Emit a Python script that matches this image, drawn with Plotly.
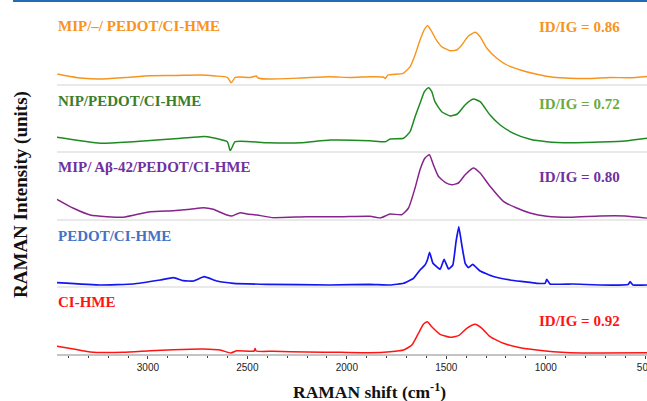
import plotly.graph_objects as go
from plotly.subplots import make_subplots

# ---------------- data (Raman shift in cm^-1, intensity in a.u., panel-relative) ----------------
orange_x = [3455, 3390, 3325, 3239, 3114, 2988, 2863, 2737, 2662, 2601, 2581, 2561, 2486, 2456, 2446,
            2400, 2234, 2084, 1983, 1883, 1817, 1807, 1793, 1717, 1682, 1657, 1632, 1607, 1593, 1573,
            1548, 1523, 1481, 1447, 1422, 1389, 1355, 1330, 1296, 1246, 1196, 1128, 1045, 962, 877,
            777, 677, 576, 491]
orange_y = [9.6, 7.1, 5.3, 4.6, 6.1, 7.9, 8.1, 8.6, 7.6, 6.3, 0.6, 6.3, 6.1, 7.6, 5.6,
            4.6, 5.6, 6.9, 6.1, 6.9, 6.6, 5.1, 8.6, 10.3, 16.9, 28.6, 43.6, 55.3, 57.9, 51.9,
            42.9, 36.9, 32.9, 33.6, 38.6, 47.6, 51.3, 46.9, 35.3, 25.3, 18.6, 13.6, 9.3, 6.3, 5.3,
            5.1, 6.1, 5.8, 7.1]

green_x = [3457, 3239, 3074, 2903, 2737, 2702, 2601, 2586, 2561, 2400, 2234, 2084, 1883, 1807, 1782,
           1715, 1682, 1657, 1632, 1610, 1590, 1573, 1557, 1523, 1481, 1444, 1406, 1364, 1330, 1280,
           1229, 1162, 1079, 995, 877, 728, 601, 491]
green_y = [13.9, 7.9, 9.5, 11.9, 14.5, 14.5, 9.5, 0.5, 9.5, 8.5, 8.5, 11.2, 10.5, 9.5, 12.2,
           12.9, 19.5, 34.5, 47.9, 59.5, 63.5, 59.5, 49.5, 39.5, 35.2, 37.2, 46.2, 52.2, 49.5, 36.2,
           26.2, 17.9, 11.9, 9.5, 8.5, 9.2, 10.2, 12.9]

purple_x = [3457, 3374, 3290, 3206, 3124, 2988, 2873, 2787, 2720, 2672, 2603, 2578, 2536, 2502, 2452,
            2369, 2201, 2033, 1883, 1833, 1782, 1724, 1690, 1657, 1632, 1607, 1585, 1565, 1540, 1506,
            1472, 1439, 1405, 1364, 1330, 1280, 1213, 1146, 1079, 995, 877, 728, 601, 491]
purple_y = [19.5, 10.5, 3.8, 2.1, 1.5, 7.1, 8.1, 9.5, 11.1, 9.5, 3.8, 2.8, 6.1, 4.8, 3.8,
            1.1, 2.1, 2.1, 2.5, 0.8, 4.8, 4.1, 10.8, 30.8, 49.1, 60.8, 64.1, 54.1, 42.5, 36.5,
            34.1, 35.8, 44.1, 50.8, 45.8, 32.5, 17.5, 10.8, 5.8, 2.5, 1.5, 2.8, 2.8, 0.5]

blue_x = [3457, 3239, 3074, 2938, 2871, 2821, 2771, 2717, 2653, 2570, 2402, 2084, 1883, 1782, 1715,
          1665, 1632, 1607, 1595, 1584, 1567, 1531, 1511, 1489, 1467, 1451, 1437, 1422, 1405, 1389,
          1367, 1330, 1271, 1179, 1112, 1045, 1003, 995, 979, 862, 728, 586, 576, 561, 491]
blue_y = [3.7, 1.4, 2.4, 6.4, 8.7, 5.7, 5.4, 9.7, 5.4, 3.1, 2.1, 1.4, 2.1, 1.4, 3.1,
          8.1, 16.4, 21.4, 26.4, 34.1, 23.1, 17.1, 27.1, 17.4, 21.4, 44.7, 59.7, 41.4, 23.1, 18.7,
          22.1, 15.4, 10.4, 6.4, 4.7, 3.1, 3.1, 7.1, 2.4, 2.4, 1.4, 1.9, 4.7, 1.4, 1.4]

red_x = [3457, 3374, 3290, 3124, 2988, 2873, 2722, 2636, 2583, 2553, 2466, 2461, 2456, 2369, 2201,
         2033, 1883, 1782, 1715, 1673, 1640, 1615, 1595, 1573, 1531, 1481, 1439, 1397, 1355, 1321,
         1280, 1213, 1128, 1045, 962, 877, 728, 491]
red_y = [7.7, 5, 2, 1.7, 3.3, 4.3, 5, 4, 1, 3.3, 3, 5.5, 3, 2.7, 2,
         1.7, 1.3, 2.3, 4, 9, 20.7, 29.7, 32.3, 27.3, 19.7, 16.7, 18.3, 25.7, 29.7, 25.7,
         17.3, 10.7, 6.3, 4, 2.3, 1.3, 1, 1.3]

sample_names = ["MIP/–/ PEDOT/CI-HME", "NIP/PEDOT/CI-HME", "MIP/ Aβ-42/PEDOT/CI-HME",
                "PEDOT/CI-HME", "CI-HME"]
ratio_labels = ["ID/IG = 0.86", "ID/IG = 0.72", "ID/IG = 0.80", None, "ID/IG = 0.92"]
x_ticks = [3000, 2500, 2000, 1500, 1000, 500]

# ---------------- styling ----------------
series = [(orange_x, orange_y), (green_x, green_y), (purple_x, purple_y),
          (blue_x, blue_y), (red_x, red_y)]
line_colors = ["#F7941D", "#1E8A22", "#86248C", "#1414F0", "#FF1414"]
line_widths = [1.4, 1.5, 1.5, 1.7, 1.5]
smooth = [0.5, 0.5, 0.5, 0.3, 0.5]
name_colors = ["#F7941D", "#3C7D2C", "#7030A0", "#4472C4", "#FF1414"]
ratio_colors = ["#F7941D", "#6AAB3E", "#7030A0", None, "#FF1414"]
name_y_px = [26, 100.5, 167, 236, 302]
ratio_y_px = [27, 104.5, 177, None, 320.5]

W, H = 647, 401
L, R, T, B = 57, 0, 16, 47
PW, PH = W - L - R, H - T - B
PANEL = PH / 5


def px_x(px):
    return (px - L) / PW


def px_y(py):
    return (H - B - py) / PH


fig = make_subplots(rows=5, cols=1, shared_xaxes=True, vertical_spacing=0)

for i, (xs, ys) in enumerate(series):
    fig.add_trace(go.Scatter(x=xs, y=ys, mode="lines",
                             line=dict(color=line_colors[i], width=line_widths[i],
                                       shape="spline", smoothing=smooth[i]),
                             hoverinfo="skip", showlegend=False),
                  row=i + 1, col=1)

serif = "Liberation Serif, Times New Roman, serif"
for i in range(5):
    r = i + 1
    last = (r == 5)
    fig.update_xaxes(row=r, col=1, range=[3457, 491], autorange=False, automargin=False,
                     showgrid=False, zeroline=False, showline=True,
                     linecolor="#c4c4c4" if last else "#e9e9e9",
                     linewidth=1.5 if last else 2,
                     ticks="outside" if last else "", showticklabels=last,
                     tickvals=x_ticks if last else None,
                     ticklabeloverflow="allow",
                     ticklen=3, tickwidth=1, tickcolor="#404040",
                     tickfont=dict(family="Liberation Sans Narrow, Arial Narrow, Liberation Sans, Arial",
                                   size=10, color="#222"),
                     minor=dict(dtick=100, tick0=0, ticks="outside", ticklen=2,
                                tickcolor="#404040") if last else None)
    fig.update_yaxes(row=r, col=1, range=[0, PANEL], visible=False, fixedrange=True,
                     automargin=False)

annotations = []
for i in range(5):
    annotations.append(dict(text="<b>" + sample_names[i] + "</b>", xref="paper", yref="paper",
                            x=px_x(56), y=px_y(name_y_px[i]), xanchor="left", yanchor="middle",
                            showarrow=False,
                            font=dict(family=serif, size=15, color=name_colors[i])))
    if ratio_labels[i]:
        annotations.append(dict(text="<b>" + ratio_labels[i] + "</b>", xref="paper", yref="paper",
                                x=px_x(536.5), y=px_y(ratio_y_px[i]), xanchor="left",
                                yanchor="middle", showarrow=False,
                                font=dict(family=serif, size=15, color=ratio_colors[i])))

annotations.append(dict(text="<b>RAMAN Intensity (units)</b>", xref="paper", yref="paper",
                        x=px_x(21), y=px_y(195), xanchor="center", yanchor="middle",
                        textangle=-90, showarrow=False,
                        font=dict(family=serif, size=19, color="#111")))
annotations.append(dict(text="<b>RAMAN shift (cm<sup>-1</sup>)</b>", xref="paper", yref="paper",
                        x=px_x(369), y=px_y(391), xanchor="center", yanchor="middle",
                        showarrow=False,
                        font=dict(family=serif, size=17.5, color="#111")))

fig.update_layout(
    width=W, height=H,
    margin=dict(l=L, r=R, t=T, b=B, pad=0, autoexpand=False),
    paper_bgcolor="white", plot_bgcolor="white",
    showlegend=False,
    annotations=annotations,
    shapes=[dict(type="rect", xref="paper", yref="paper",
                 x0=px_x(13), x1=px_x(W + 2), y0=px_y(2), y1=px_y(-2),
                 fillcolor="#1F6DB6", line=dict(width=0), layer="above")],
)

fig.write_html("out.html")
